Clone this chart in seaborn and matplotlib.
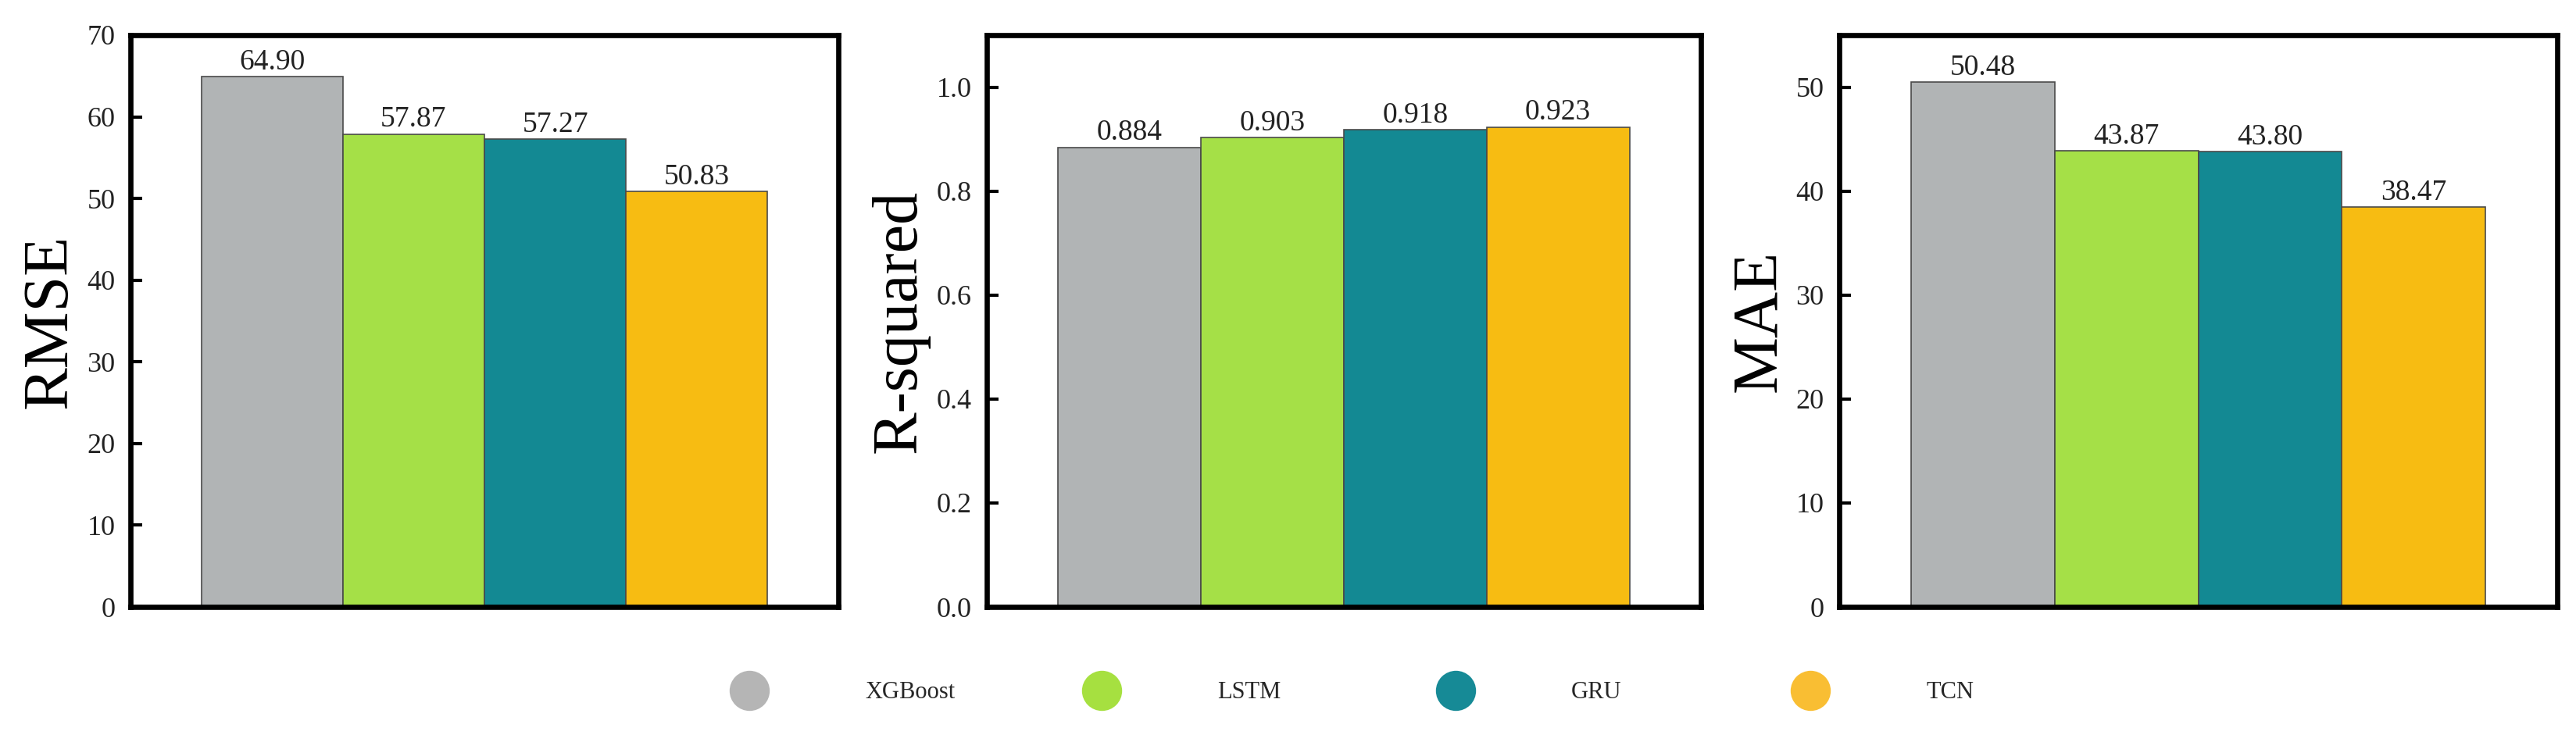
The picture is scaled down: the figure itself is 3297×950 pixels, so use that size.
import matplotlib
matplotlib.use("Agg")
import matplotlib.pyplot as plt
from matplotlib.lines import Line2D
import seaborn as sns
import pandas as pd

# ---- data ----
models = ["XGBoost", "LSTM", "GRU", "TCN"]
rmse = [64.90, 57.87, 57.27, 50.83]
r_squared = [0.884, 0.903, 0.918, 0.923]
mae = [50.48, 43.87, 43.80, 38.47]
bar_colors = ["#B1B4B5", "#A5E047", "#138993", "#F7BC12"]
legend_colors = ["#B5B5B5", "#A6E040", "#168A96", "#F9BE33"]

sns.set_theme(style="white")
plt.rcParams["font.family"] = ["Liberation Serif", "DejaVu Serif"]
plt.rcParams["mathtext.fontset"] = "stix"

df = pd.DataFrame({"model": models, "RMSE": rmse, "R-squared": r_squared, "MAE": mae})
palette = dict(zip(models, bar_colors))

fig = plt.figure(figsize=(32.97, 9.5), dpi=100)
bottom = 1 - 777 / 950
height = (777 - 45) / 950
positions = [
    [167 / 3297, bottom, 906 / 3297, height],
    [1263 / 3297, bottom, 914 / 3297, height],
    [2354 / 3297, bottom, 919 / 3297, height],
]
panels = [
    ("RMSE", (0, 70), [0, 10, 20, 30, 40, 50, 60, 70], "{:.0f}", "%.2f"),
    ("R-squared", (0, 1.1), [0.0, 0.2, 0.4, 0.6, 0.8, 1.0], "{:.1f}", "%.3f"),
    ("MAE", (0, 55), [0, 10, 20, 30, 40, 50], "{:.0f}", "%.2f"),
]

for pos, (col, ylim, ticks, tickfmt, valfmt) in zip(positions, panels):
    ax = fig.add_axes(pos)
    sns.barplot(data=df, x="model", y=col, hue="model", palette=palette,
                width=1.0, edgecolor="#4a4a4a", linewidth=1.2, saturation=1,
                legend=False, ax=ax)
    ax.set_xlim(-1, 4)
    ax.set_ylim(*ylim)
    ax.set_yticks(ticks)
    ax.set_yticklabels([tickfmt.format(t) for t in ticks])
    ax.set_xticks([])
    ax.set_xlabel("")
    ax.set_ylabel(col, fontsize=59, labelpad=6, color="black")
    ax.tick_params(axis="y", direction="in", length=11, width=3, pad=14,
                   labelsize=26, colors="black", left=True)
    for tl in ax.get_yticklabels():
        tl.set_color("#222222")
    for sp in ax.spines.values():
        sp.set_visible(True)
        sp.set_linewidth(4.8)
        sp.set_color("black")
    for cont in ax.containers:
        ax.bar_label(cont, fmt=valfmt, padding=1, fontsize=27, color="#222222")

# legend: one entry per model, evenly spaced
marker_x = [959, 1410, 1863, 2317]
for name, c, mx in zip(models, legend_colors, marker_x):
    h = Line2D([], [], marker="o", ls="", markersize=37, color=c, markeredgewidth=0)
    fig.legend(handles=[h], labels=[name], loc="center left",
               bbox_to_anchor=((mx - 23) / 3297, 1 - 887 / 950),
               frameon=False, fontsize=22, handlelength=1.5,
               handletextpad=4.1, borderpad=0, borderaxespad=0)

fig.savefig("out.png", dpi=100)
